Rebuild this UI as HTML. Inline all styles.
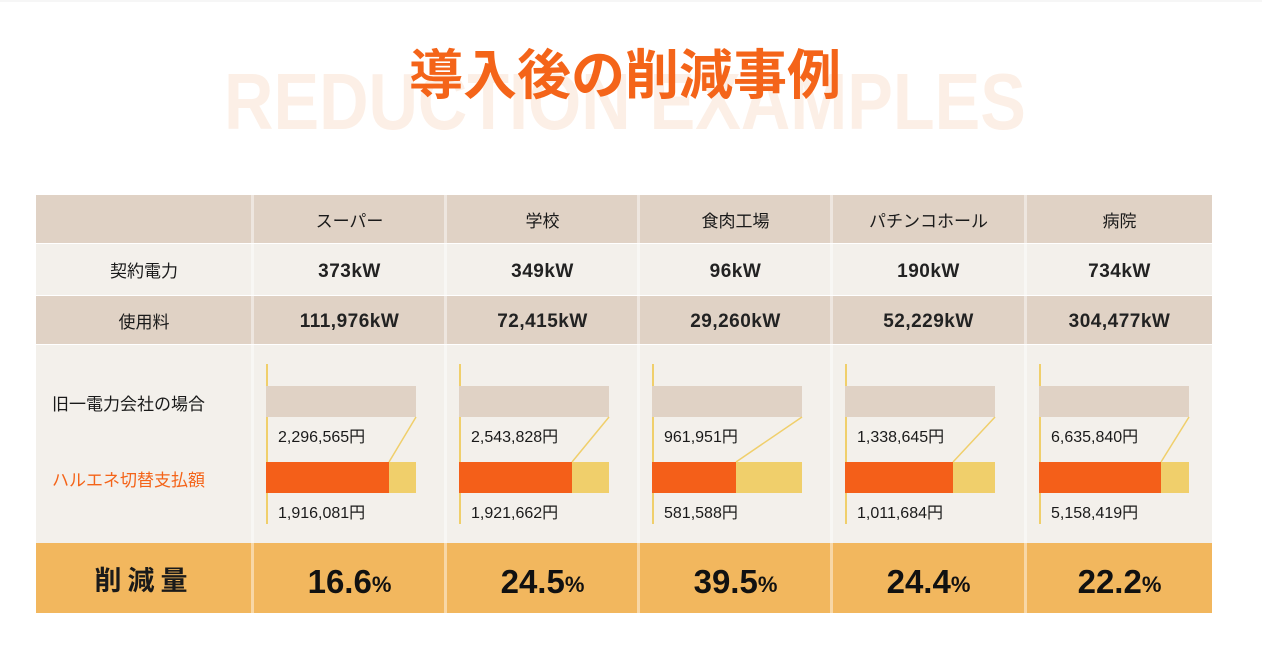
<!DOCTYPE html>
<html><head><meta charset="utf-8"><style>
body{margin:0;width:1262px;height:655px;background:#fff;position:relative;overflow:hidden;font-family:"Liberation Sans","Noto Sans CJK JP",sans-serif;color:#1a1a1a}
.a{position:absolute}
.c{position:absolute;display:flex;align-items:center;justify-content:center;white-space:nowrap}
</style></head><body>
<div class="a" style="left:0;top:0;width:1262px;height:2px;background:#f6f6f6"></div>
<div class="c" style="left:125px;top:62px;width:1000px;height:80px;font-size:80px;font-weight:bold;color:#fcefe6;transform:scaleX(0.855)">REDUCTION EXAMPLES</div>
<div class="c" style="left:300px;top:38px;width:650px;height:64px;font-size:54px;font-weight:bold;color:#f46419;font-family:'Noto Sans CJK JP',sans-serif">導入後の削減事例</div>

<div class="a" style="left:36px;top:195px;width:1176px;height:48px;background:#e0d2c5"></div>
<div class="a" style="left:36px;top:244px;width:1176px;height:51px;background:#f3f0eb"></div>
<div class="a" style="left:36px;top:296px;width:1176px;height:48px;background:#e0d2c5"></div>
<div class="a" style="left:36px;top:345px;width:1176px;height:198px;background:#f3f0eb"></div>
<div class="a" style="left:36px;top:543px;width:1176px;height:70px;background:#f2b75e"></div>
<div id="seps"></div>

<div class="c" style="left:36px;top:244px;width:216px;height:51px;font-size:17px;font-family:'Noto Sans CJK JP',sans-serif">契約電力</div>
<div class="c" style="left:36px;top:296px;width:216px;height:48px;font-size:17px;font-family:'Noto Sans CJK JP',sans-serif">使用料</div>
<div class="a" style="left:52px;top:390px;font-size:17px;font-family:'Noto Sans CJK JP',sans-serif">旧一電力会社の場合</div>
<div class="a" style="left:52px;top:466px;font-size:17px;color:#f46419;font-family:'Noto Sans CJK JP',sans-serif">ハルエネ切替支払額</div>
<div class="c" style="left:36px;top:543px;width:216px;height:70px;font-size:27px;font-weight:bold;letter-spacing:6px;font-family:'Noto Sans CJK JP',sans-serif">削減量</div>
<div id="cols"></div>
<script>
var X=[254,447,640,833,1027],W=[191,191,191,191,185];
var d=[["スーパー","373kW","111,976kW","2,296,565円","1,916,081円",123,"16.6"],
["学校","349kW","72,415kW","2,543,828円","1,921,662円",113,"24.5"],
["食肉工場","96kW","29,260kW","961,951円","581,588円",84,"39.5"],
["パチンコホール","190kW","52,229kW","1,338,645円","1,011,684円",108,"24.4"],
["病院","734kW","304,477kW","6,635,840円","5,158,419円",122,"22.2"]];
var h="",s="";
for(var i=0;i<5;i++){var x=X[i],w=W[i],q=d[i],b=x+12;
s+='<div class="a" style="left:'+(x-3)+'px;top:195px;width:3px;height:418px;background:rgba(255,255,255,0.45)"></div>';
h+='<div class="c" style="left:'+x+'px;top:195px;width:'+w+'px;height:48px;font-size:17px;font-family:\'Noto Sans CJK JP\',sans-serif">'+q[0]+'</div>';
h+='<div class="c" style="left:'+x+'px;top:246px;width:'+w+'px;height:51px;font-size:19px;letter-spacing:0.5px;font-weight:bold;color:#222">'+q[1]+'</div>';
h+='<div class="c" style="left:'+x+'px;top:298px;width:'+w+'px;height:48px;font-size:19px;letter-spacing:0.5px;font-weight:bold;color:#222">'+q[2]+'</div>';
h+='<div class="a" style="left:'+b+'px;top:364px;width:2px;height:160px;background:#f0cf6b"></div>';
h+='<div class="a" style="left:'+b+'px;top:386px;width:150px;height:31px;background:#e0d2c5"></div>';
h+='<div class="a" style="left:'+b+'px;top:462px;width:150px;height:31px;background:#f0cf6b"></div>';
h+='<div class="a" style="left:'+b+'px;top:462px;width:'+q[5]+'px;height:31px;background:#f45f19"></div>';
h+='<svg class="a" style="left:'+b+'px;top:416px" width="152" height="48"><line x1="150" y1="1" x2="'+q[5]+'" y2="46" stroke="#f0cf6b" stroke-width="1.5"/></svg>';
h+='<div class="a" style="left:'+(b+12)+'px;top:423px;font-size:16px;font-family:\'Liberation Sans\',\'Noto Sans CJK JP\',sans-serif">'+q[3]+'</div>';
h+='<div class="a" style="left:'+(b+12)+'px;top:499px;font-size:16px;font-family:\'Liberation Sans\',\'Noto Sans CJK JP\',sans-serif">'+q[4]+'</div>';
h+='<div class="c" style="left:'+x+'px;top:547px;width:'+w+'px;height:70px;font-weight:bold;color:#111"><span style="font-size:33px">'+q[6]+'</span><span style="font-size:22px;margin-top:6px">%</span></div>';}
document.getElementById("cols").innerHTML=h;document.getElementById("seps").innerHTML=s;
</script>
</body></html>
